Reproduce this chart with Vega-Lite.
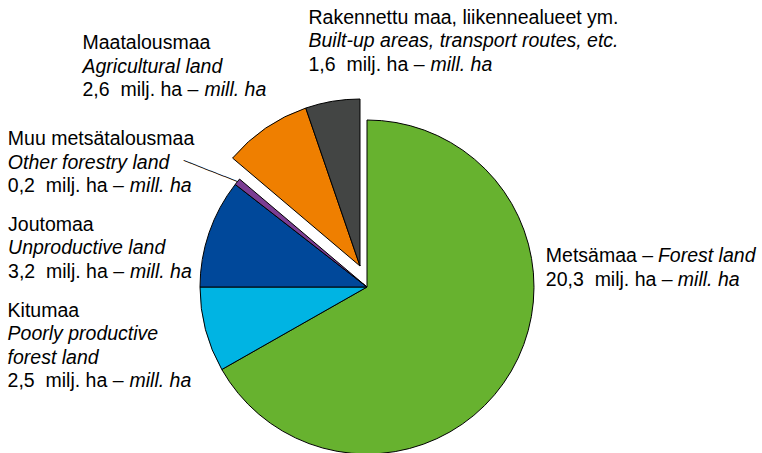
{
  "$schema": "https://vega.github.io/schema/vega-lite/v6.json",
  "width": 734,
  "height": 332,
  "autosize": {"type": "none"},
  "padding": {"left": 0, "top": 121, "right": 28, "bottom": 0},
  "background": "white",
  "config": {"view": {"stroke": null}, "font": "Liberation Sans", "text": {"baseline": "alphabetic", "align": "left", "fontSize": 19.5, "color": "black"}},
  "data": {
    "values": [
      {"cat": "Metsämaa", "order": 1, "value": 20.3, "explode": false, "name": "Metsämaa –", "en": "Forest land", "amt": "20,3\u00a0 milj. ha –", "unit": "mill. ha"},
      {"cat": "Kitumaa", "order": 2, "value": 2.5, "explode": false, "name": "Kitumaa", "en": "Poorly productive\nforest land", "amt": "2,5\u00a0 milj. ha –", "unit": "mill. ha"},
      {"cat": "Joutomaa", "order": 3, "value": 3.2, "explode": false, "name": "Joutomaa", "en": "Unproductive land", "amt": "3,2\u00a0 milj. ha –", "unit": "mill. ha"},
      {"cat": "Muu metsätalousmaa", "order": 4, "value": 0.2, "explode": false, "name": "Muu metsätalousmaa", "en": "Other forestry land", "amt": "0,2\u00a0 milj. ha –", "unit": "mill. ha"},
      {"cat": "Maatalousmaa", "order": 5, "value": 2.6, "explode": true, "name": "Maatalousmaa", "en": "Agricultural land", "amt": "2,6\u00a0 milj. ha –", "unit": "mill. ha"},
      {"cat": "Rakennettu maa, liikennealueet ym.", "order": 6, "value": 1.6, "explode": true, "name": "Rakennettu maa, liikennealueet ym.", "en": "Built-up areas, transport routes, etc.", "amt": "1,6\u00a0 milj. ha –", "unit": "mill. ha"}
    ]
  },
  "encoding": {
    "theta": {"field": "value", "type": "quantitative", "stack": true},
    "order": {"field": "order", "type": "quantitative"},
    "detail": {"field": "cat", "type": "nominal"}
  },
  "layer": [
    {
      "mark": {"type": "arc", "radius": 167, "stroke": "black", "strokeWidth": 1},
      "encoding": {
        "color": {"field": "cat", "type": "nominal", "legend": null,
          "scale": {"domain": ["Metsämaa", "Kitumaa", "Joutomaa", "Muu metsätalousmaa", "Maatalousmaa", "Rakennettu maa, liikennealueet ym."],
                    "range": ["#67b22f", "#00b4e3", "#00489a", "#7b3d93", "#ef7f00", "#434544"]}},
        "opacity": {"condition": {"test": "datum.explode", "value": 0}, "value": 1}
      }
    },
    {
      "mark": {"type": "arc", "radius": 167, "stroke": "black", "strokeWidth": 1, "xOffset": -7, "yOffset": -21},
      "encoding": {
        "color": {"field": "cat", "type": "nominal", "legend": null,
          "scale": {"domain": ["Metsämaa", "Kitumaa", "Joutomaa", "Muu metsätalousmaa", "Maatalousmaa", "Rakennettu maa, liikennealueet ym."],
                    "range": ["#67b22f", "#00b4e3", "#00489a", "#7b3d93", "#ef7f00", "#434544"]}},
        "opacity": {"condition": {"test": "datum.explode", "value": 1}, "value": 0}
      }
    },
    {
      "mark": {"type": "text", "radius": 167, "font": "DejaVu Sans", "fontSize": 12, "align": "right", "baseline": "middle", "angle": 21.6, "color": "black"},
      "encoding": {"text": {"condition": {"test": "datum.order === 4", "value": "────────"}, "value": ""}}
    },

    {"mark": {"type": "text", "radius": 167, "baseline": "alphabetic", "dx": 34.5, "dy": -108.7},
     "encoding": {"text": {"condition": {"test": "datum.order === 1", "field": "name", "type": "nominal"}, "value": ""}}},
    {"mark": {"type": "text", "radius": 167, "baseline": "alphabetic", "fontStyle": "italic", "dx": 146.6, "dy": -108.7},
     "encoding": {"text": {"condition": {"test": "datum.order === 1", "field": "en", "type": "nominal"}, "value": ""}}},
    {"mark": {"type": "text", "radius": 167, "baseline": "alphabetic", "dx": 34.5, "dy": -85.2},
     "encoding": {"text": {"condition": {"test": "datum.order === 1", "field": "amt", "type": "nominal"}, "value": ""}}},
    {"mark": {"type": "text", "radius": 167, "baseline": "alphabetic", "fontStyle": "italic", "dx": 166.5, "dy": -85.2},
     "encoding": {"text": {"condition": {"test": "datum.order === 1", "field": "unit", "type": "nominal"}, "value": ""}}},

    {"mark": {"type": "text", "radius": 167, "baseline": "alphabetic", "dx": -198, "dy": -13},
     "encoding": {"text": {"condition": {"test": "datum.order === 2", "field": "name", "type": "nominal"}, "value": ""}}},
    {"mark": {"type": "text", "radius": 167, "baseline": "alphabetic", "lineHeight": 23.5, "lineBreak": "\n", "fontStyle": "italic", "dx": -198, "dy": 10.5},
     "encoding": {"text": {"condition": {"test": "datum.order === 2", "field": "en", "type": "nominal"}, "value": ""}}},
    {"mark": {"type": "text", "radius": 167, "baseline": "alphabetic", "dx": -198, "dy": 57.5},
     "encoding": {"text": {"condition": {"test": "datum.order === 2", "field": "amt", "type": "nominal"}, "value": ""}}},
    {"mark": {"type": "text", "radius": 167, "baseline": "alphabetic", "fontStyle": "italic", "dx": -76, "dy": 57.5},
     "encoding": {"text": {"condition": {"test": "datum.order === 2", "field": "unit", "type": "nominal"}, "value": ""}}},

    {"mark": {"type": "text", "radius": 167, "baseline": "alphabetic", "dx": -201, "dy": -2.2},
     "encoding": {"text": {"condition": {"test": "datum.order === 3", "field": "name", "type": "nominal"}, "value": ""}}},
    {"mark": {"type": "text", "radius": 167, "baseline": "alphabetic", "fontStyle": "italic", "dx": -201, "dy": 21.3},
     "encoding": {"text": {"condition": {"test": "datum.order === 3", "field": "en", "type": "nominal"}, "value": ""}}},
    {"mark": {"type": "text", "radius": 167, "baseline": "alphabetic", "dx": -201, "dy": 44.8},
     "encoding": {"text": {"condition": {"test": "datum.order === 3", "field": "amt", "type": "nominal"}, "value": ""}}},
    {"mark": {"type": "text", "radius": 167, "baseline": "alphabetic", "fontStyle": "italic", "dx": -79, "dy": 44.8},
     "encoding": {"text": {"condition": {"test": "datum.order === 3", "field": "unit", "type": "nominal"}, "value": ""}}},

    {"mark": {"type": "text", "radius": 167, "baseline": "alphabetic", "dx": -229.5, "dy": -36.7},
     "encoding": {"text": {"condition": {"test": "datum.order === 4", "field": "name", "type": "nominal"}, "value": ""}}},
    {"mark": {"type": "text", "radius": 167, "baseline": "alphabetic", "fontStyle": "italic", "dx": -229.5, "dy": -13.2},
     "encoding": {"text": {"condition": {"test": "datum.order === 4", "field": "en", "type": "nominal"}, "value": ""}}},
    {"mark": {"type": "text", "radius": 167, "baseline": "alphabetic", "dx": -229.5, "dy": 10.3},
     "encoding": {"text": {"condition": {"test": "datum.order === 4", "field": "amt", "type": "nominal"}, "value": ""}}},
    {"mark": {"type": "text", "radius": 167, "baseline": "alphabetic", "fontStyle": "italic", "dx": -107.5, "dy": 10.3},
     "encoding": {"text": {"condition": {"test": "datum.order === 4", "field": "unit", "type": "nominal"}, "value": ""}}},

    {"mark": {"type": "text", "radius": 167, "baseline": "alphabetic", "dx": -190.3, "dy": -100},
     "encoding": {"text": {"condition": {"test": "datum.order === 5", "field": "name", "type": "nominal"}, "value": ""}}},
    {"mark": {"type": "text", "radius": 167, "baseline": "alphabetic", "fontStyle": "italic", "dx": -190.3, "dy": -76.5},
     "encoding": {"text": {"condition": {"test": "datum.order === 5", "field": "en", "type": "nominal"}, "value": ""}}},
    {"mark": {"type": "text", "radius": 167, "baseline": "alphabetic", "dx": -190.3, "dy": -53},
     "encoding": {"text": {"condition": {"test": "datum.order === 5", "field": "amt", "type": "nominal"}, "value": ""}}},
    {"mark": {"type": "text", "radius": 167, "baseline": "alphabetic", "fontStyle": "italic", "dx": -68.3, "dy": -53},
     "encoding": {"text": {"condition": {"test": "datum.order === 5", "field": "unit", "type": "nominal"}, "value": ""}}},

    {"mark": {"type": "text", "radius": 167, "baseline": "alphabetic", "dx": -31, "dy": -98.3},
     "encoding": {"text": {"condition": {"test": "datum.order === 6", "field": "name", "type": "nominal"}, "value": ""}}},
    {"mark": {"type": "text", "radius": 167, "baseline": "alphabetic", "fontStyle": "italic", "dx": -31, "dy": -74.8},
     "encoding": {"text": {"condition": {"test": "datum.order === 6", "field": "en", "type": "nominal"}, "value": ""}}},
    {"mark": {"type": "text", "radius": 167, "baseline": "alphabetic", "dx": -31, "dy": -51.3},
     "encoding": {"text": {"condition": {"test": "datum.order === 6", "field": "amt", "type": "nominal"}, "value": ""}}},
    {"mark": {"type": "text", "radius": 167, "baseline": "alphabetic", "fontStyle": "italic", "dx": 91, "dy": -51.3},
     "encoding": {"text": {"condition": {"test": "datum.order === 6", "field": "unit", "type": "nominal"}, "value": ""}}}
  ]
}
